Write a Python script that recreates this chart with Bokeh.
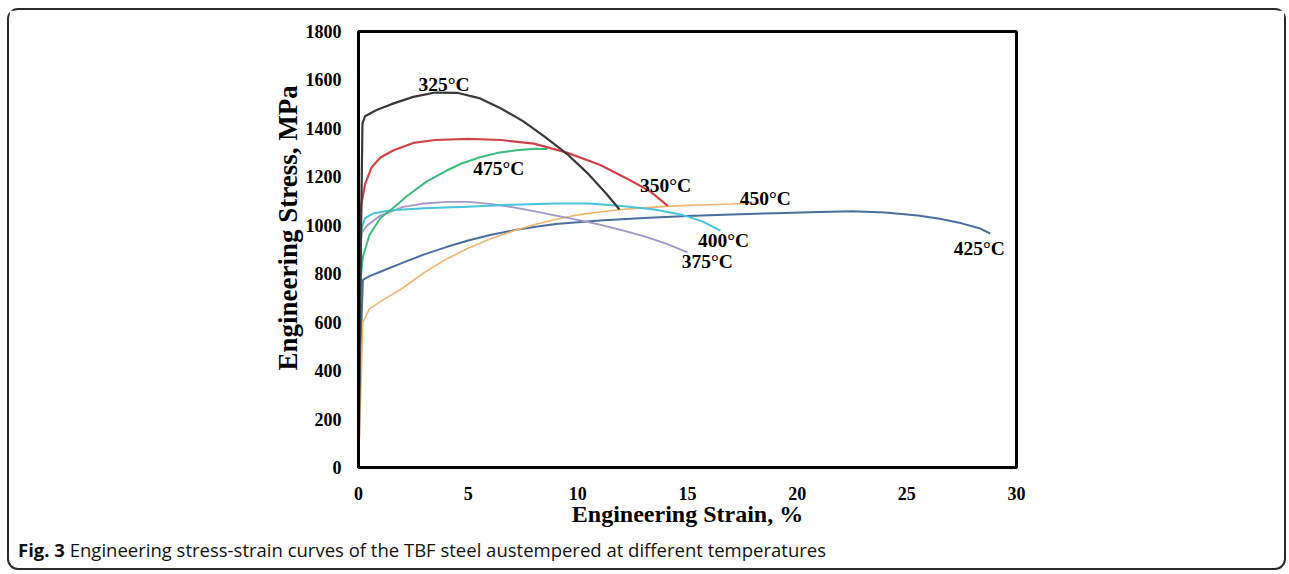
from bokeh.plotting import figure
from bokeh.layouts import column
from bokeh.models import FixedTicker, Title, Div
from bokeh.core.properties import value
from bokeh.embed import file_html
from bokeh.resources import INLINE

# ---------------- data ----------------
x325 = [0, 0.12, 0.18, 0.3, 0.8, 1.5, 2.5, 3.5, 4.5, 5.5, 6.5, 7.5, 8.5, 9.5, 10.5, 11.3, 11.9]
y325 = [0, 1000, 1420, 1450, 1475, 1500, 1530, 1548, 1547, 1525, 1482, 1430, 1365, 1295, 1210, 1130, 1065]

x350 = [0, 0.08, 0.12, 0.3, 0.6, 1.0, 1.6, 2.5, 3.5, 5.0, 6.5, 8.0, 9.5, 11.0, 12.3, 13.3, 14.1]
y350 = [0, 900, 1080, 1170, 1240, 1280, 1310, 1340, 1352, 1357, 1352, 1337, 1300, 1250, 1190, 1140, 1080]

x475 = [0, 0.1, 0.2, 0.5, 1.0, 1.5, 2.2, 3.1, 4.0, 4.7, 5.5, 6.3, 7.2, 8.0, 8.6]
y475 = [0, 780, 870, 960, 1030, 1065, 1120, 1180, 1225, 1255, 1280, 1298, 1310, 1316, 1315]

x375 = [0, 0.08, 0.15, 0.4, 1.0, 2.0, 3.0, 4.0, 5.0, 6.0, 7.0, 8.0, 9.0, 10.0, 11.0, 12.0, 13.0, 14.0, 15.0]
y375 = [0, 900, 970, 1000, 1040, 1075, 1090, 1097, 1097, 1088, 1075, 1058, 1040, 1022, 1003, 980, 955, 925, 888]

x400 = [0, 0.08, 0.15, 0.3, 0.7, 1.5, 3.0, 5.0, 7.0, 9.0, 10.5, 12.0, 13.5, 14.8, 15.7, 16.5]
y400 = [0, 900, 990, 1030, 1050, 1062, 1070, 1077, 1085, 1090, 1090, 1080, 1065, 1042, 1015, 978]

x425 = [0, 0.1, 0.2, 0.5, 1, 2, 3, 4, 5, 6, 7, 8, 9, 10, 11, 13, 15, 17, 19, 21, 22.5, 24, 25.5, 26.5, 27.5, 28.3, 28.8]
y425 = [0, 500, 775, 790, 808, 845, 880, 910, 937, 960, 978, 993, 1005, 1013, 1020, 1030, 1038, 1045, 1050, 1055, 1058, 1053, 1040, 1027, 1008, 988, 966]

x450 = [0, 0.1, 0.2, 0.5, 1, 2, 3, 4, 5, 6, 7, 8, 9, 10, 11, 12, 13, 14, 15, 16, 17, 18.3]
y450 = [0, 300, 600, 655, 685, 740, 805, 860, 905, 943, 975, 1002, 1025, 1043, 1055, 1065, 1072, 1078, 1082, 1085, 1088, 1092]

label_text = ["325°C", "475°C", "350°C", "450°C", "400°C", "375°C", "425°C"]
label_x = [3.9, 6.4, 14.0, 18.55, 16.64, 15.9, 28.3]
label_y = [1581, 1234, 1164, 1111, 937, 851, 904]

x_ticks = [0, 5, 10, 15, 20, 25, 30]
y_ticks = [0, 200, 400, 600, 800, 1000, 1200, 1400, 1600, 1800]

x_title = "Engineering Strain, %"
y_title = "Engineering Stress, MPa"
caption_bold = "Fig. 3"
caption_rest = "Engineering stress-strain curves of the TBF steel austempered at different temperatures"

# ---------------- figure ----------------
SERIF = "Liberation Serif"

p = figure(frame_width=658, frame_height=436,
           min_border_left=349, min_border_right=268,
           min_border_top=21, min_border_bottom=70,
           x_range=(0, 30), y_range=(0, 1800),
           output_backend="svg", toolbar_location=None,
           background_fill_color="white", border_fill_color="white")

p.xgrid.visible = False
p.ygrid.visible = False
p.outline_line_color = "black"
p.outline_line_width = 3
p.outline_line_alpha = 1.0

for ax in (p.xaxis[0], p.yaxis[0]):
    ax.axis_line_color = "black"
    ax.axis_line_width = 3
    ax.major_tick_line_color = None
    ax.minor_tick_line_color = None
    ax.major_label_text_font = SERIF
    ax.major_label_text_font_style = "bold"
    ax.major_label_text_font_size = "18px"
    ax.major_label_text_color = "black"
    ax.axis_label_text_font = SERIF
    ax.axis_label_text_font_style = "bold"
    ax.axis_label_text_color = "black"

p.xaxis.ticker = FixedTicker(ticks=x_ticks)
p.yaxis.ticker = FixedTicker(ticks=y_ticks)
p.xaxis.axis_label = x_title
p.xaxis.axis_label_text_font_size = "24px"
p.xaxis.major_label_standoff = 13
p.yaxis.major_label_standoff = 11
p.xaxis.axis_label_standoff = -2

ytitle = Title(text=y_title, align="left", offset=97, standoff=0,
               text_font=SERIF, text_font_style="bold", text_font_size="27px",
               text_color="black")
p.add_layout(ytitle, "left")

series = [
    (x425, y425, "#4a6d9c", 2.0),
    (x450, y450, "#f2b46e", 1.6),
    (x375, y375, "#a396c8", 1.8),
    (x400, y400, "#45c4dc", 2.0),
    (x475, y475, "#3dba7c", 2.0),
    (x350, y350, "#d0434a", 2.2),
    (x325, y325, "#383838", 2.2),
]
for xs, ys, col, w in series:
    p.line(xs, ys, line_color=col, line_width=w)

p.text(x=label_x, y=label_y, text=label_text,
       text_font=value(SERIF), text_font_style="bold", text_font_size="19.5px",
       text_align="center", text_baseline="middle", text_color="black")

cap = Div(text=('<div style="padding-left:9px;font-family:\'Open Sans\';font-size:18.5px;'
                'line-height:26px;color:#111;white-space:nowrap">'
                f'<b>{caption_bold}</b> {caption_rest}</div>'),
          width=1275, height=31, margin=(0, 0, 0, 0))

layout = column(p, cap, spacing=0, width=1279, height=562, sizing_mode="fixed",
                styles={"border": "2px solid #2a2a2a", "border-radius": "11px",
                        "margin-left": "7px", "margin-top": "8px",
                        "background": "white"})

open("out.html", "w").write(file_html(layout, INLINE))
